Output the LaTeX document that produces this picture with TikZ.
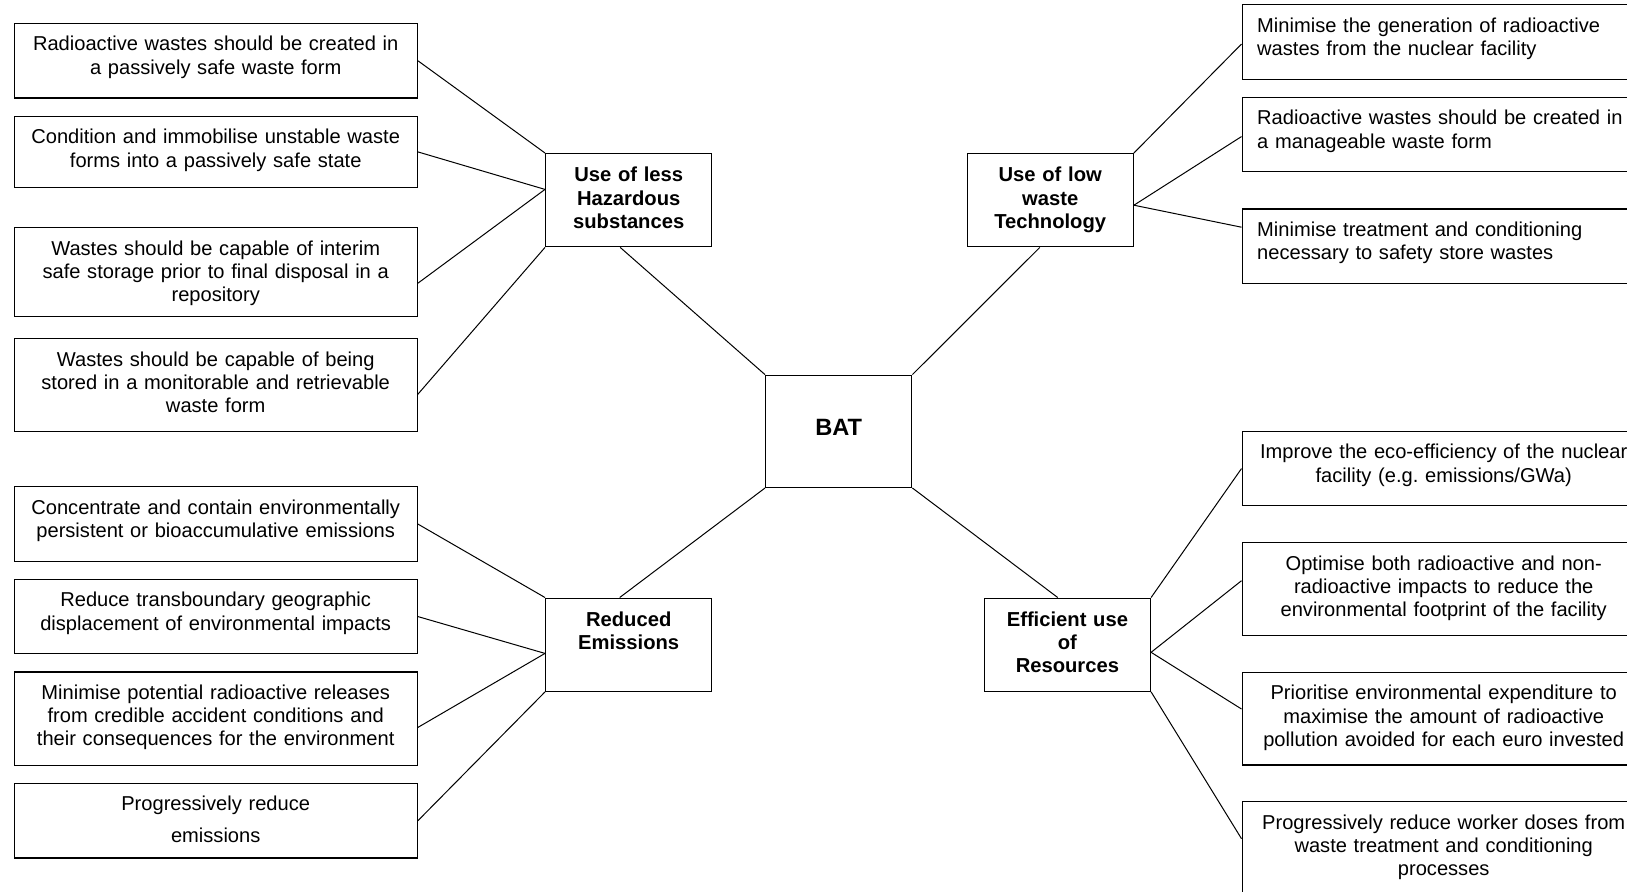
\documentclass[tikz,border=0pt]{standalone}
\usepackage{fontspec}
\setmainfont{Liberation Sans}
\frenchspacing

\begin{document}
\begin{tikzpicture}[x=0.5pt, y=-0.5pt, line width=.5pt,
  b/.style={draw, line width=.7pt, anchor=north west, align=center,
            text width=186.5pt, inner xsep=7.5pt, inner ysep=0pt,
            font=\fontsize{10.05}{11.65}\selectfont,
            text height=13.65pt, text depth=#1},
  h/.style={draw, line width=.7pt, anchor=north west, align=center,
            text width=83pt, inner xsep=0pt, inner ysep=0pt,
            font=\fontsize{10.1}{11.65}\selectfont\bfseries,
            text height=14pt, text depth=32.5pt}]
\path[use as bounding box, fill=white] (0,0) rectangle (1627,891);
\clip (0,0) rectangle (1627,891);
% left column
\node[b=23.6pt] (l1) at (13.5,22.8) {Radioactive wastes should be created in\\a passively safe waste form};
\node[b=21.85pt] (l2) at (13.5,115.7) {Condition and immobilise unstable waste\\forms into a passively safe state};
\node[b=30.85pt] (l3) at (13.5,227) {Wastes should be capable of interim\\safe storage prior to final disposal in a\\repository};
\node[b=32.85pt] (l4) at (13.5,338) {Wastes should be capable of being\\stored in a monitorable and retrievable\\waste form};
\node[b=23.7pt] (l5) at (13.5,486) {Concentrate and contain environmentally\\persistent or bioaccumulative emissions};
\node[b=23.5pt] (l6) at (13.5,578.7) {Reduce transboundary geographic\\displacement of environmental impacts};
\node[b=33.05pt] (l7) at (13.5,671.3) {Minimise potential radioactive releases\\from credible accident conditions and\\their consequences for the environment};
\node[b=23.65pt] (l8) at (13.5,782.7) {Progressively reduce\\[4.35pt]emissions};
% right column
\node[b=23.7pt, align=left] (r1) at (1241.5,4) {Minimise the generation of radioactive\\wastes from the nuclear facility};
\node[b=23.5pt, align=left] (r2) at (1241.5,96.7) {Radioactive wastes should be created in\\a manageable waste form};
\node[b=23.55pt, align=left] (r3) at (1241.5,208.3) {Minimise treatment and conditioning\\necessary to safety store wastes};
\node[b=23.5pt] (r4) at (1241.5,430.7) {Improve the eco-efficiency of the nuclear\\facility (e.g. emissions/GWa)};
\node[b=32.85pt] (r5) at (1241.5,542) {Optimise both radioactive and non-\\radioactive impacts to reduce the\\environmental footprint of the facility};
\node[b=32.65pt] (r6) at (1241.5,671.7) {Prioritise environmental expenditure to\\maximise the amount of radioactive\\pollution avoided for each euro invested};
\node[b=32.85pt] (r7) at (1241.5,801) {Progressively reduce worker doses from\\waste treatment and conditioning\\processes};
% hubs
\node[h] (hz) at (545,153) {Use of less\\Hazardous\\substances};
\node[h] (lw) at (966.5,153) {Use of low\\waste\\Technology};
\node[h] (re) at (545,597.5) {Reduced\\Emissions};
\node[h] (ef) at (983.7,597.5) {Efficient use\\of\\Resources};
\node[draw, line width=.7pt, anchor=north west, minimum width=73pt, inner sep=0pt,
      text height=30pt, text depth=26pt, font=\fontsize{11.8}{14}\selectfont\bfseries]
      (bat) at (765,374.6) {BAT};
% links
\draw (l1.east) -- (hz.north west);
\draw (l2.east) -- ([yshift=5.4pt]hz.west);
\draw ([yshift=-5.5pt]l3.east) -- ([yshift=5.4pt]hz.west);
\draw ([yshift=-4.5pt]l4.east) -- (hz.south west);
\draw (l5.east) -- (re.north west);
\draw (l6.east) -- ([yshift=-4.35pt]re.west);
\draw ([yshift=-4.35pt]l7.east) -- ([yshift=-4.35pt]re.west);
\draw (l8.east) -- (re.south west);
\draw ([xshift=-4.25pt]hz.south) -- (bat.north west);
\draw ([xshift=-4.5pt]re.north) -- (bat.south west);
\draw ([xshift=-5.2pt]lw.south) -- (bat.north east);
\draw ([xshift=-4.85pt]ef.north) -- (bat.south east);
\draw (lw.north east) -- ([yshift=-1pt]r1.west);
\draw ([yshift=-2.5pt]lw.east) -- ([yshift=-1pt]r2.west);
\draw ([yshift=-2.5pt]lw.east) -- ([yshift=9.5pt]r3.west);
\draw (ef.north east) -- (r4.west);
\draw ([yshift=-3.8pt]ef.east) -- ([yshift=4.25pt]r5.west);
\draw ([yshift=-3.8pt]ef.east) -- ([yshift=4.85pt]r6.west);
\draw (ef.south east) -- ([yshift=4.75pt]r7.west);
\end{tikzpicture}
\end{document}
